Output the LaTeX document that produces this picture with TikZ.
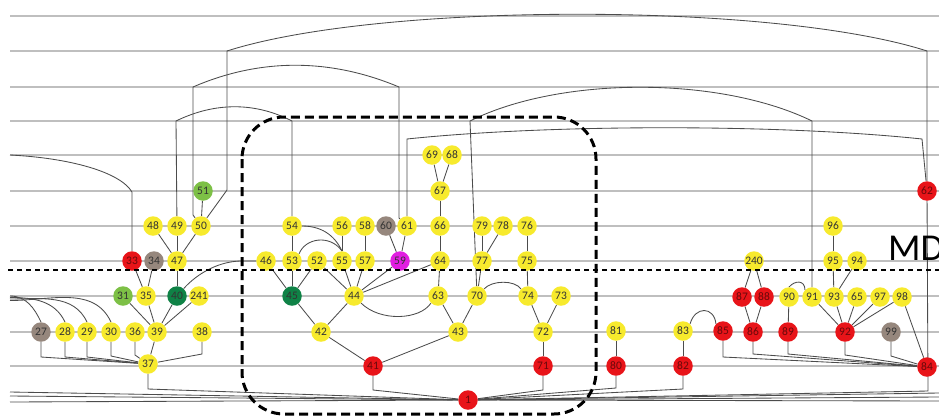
\documentclass[tikz,border=0pt]{standalone}
\usepackage{fontspec}
\setmainfont{Carlito}
\definecolor{cy}{RGB}{247,234,45}
\definecolor{cr}{RGB}{232,20,25}
\definecolor{cb}{RGB}{150,135,125}
\definecolor{clg}{RGB}{125,192,70}
\definecolor{cdg}{RGB}{15,130,70}
\definecolor{cm}{RGB}{225,30,225}
\pgfdeclarelayer{edgelayer}
\pgfdeclarelayer{toplayer}
\pgfsetlayers{edgelayer,main,toplayer}
\begin{document}
\begin{tikzpicture}[x=1pt,y=-1pt,
  nd/.style={circle, minimum size=19.5pt, inner sep=0pt, font=\fontsize{11.5}{11.5}\selectfont, text=black!80},
  Y/.style={nd, fill=cy},
  R/.style={nd, fill=cr, text=cr!45!black},
  B/.style={nd, fill=cb},
  LG/.style={nd, fill=clg},
  DG/.style={nd, fill=cdg},
  MG/.style={nd, fill=cm},
  edge/.style={draw=black!70, line width=0.85pt},
  gridline/.style={draw=black!25, line width=1.1pt}]
\useasboundingbox (0,0) rectangle (939,418);
\clip (0,0) rectangle (939,418);
% nodes
\node[Y] (n69) at (432,155) {69};
\node[Y] (n68) at (452,155) {68};
\node[LG] (n51) at (203,191) {51};
\node[Y] (n67) at (440,191) {67};
\node[R] (n62) at (927,191) {62};
\node[Y] (n48) at (153,226) {48};
\node[Y] (n49) at (177,226) {49};
\node[Y] (n50) at (201,226) {50};
\node[Y] (n54) at (292,226) {54};
\node[Y] (n56) at (342,226) {56};
\node[Y] (n58) at (365,226) {58};
\node[B] (n60) at (386,226) {60};
\node[Y] (n61) at (407,226) {61};
\node[Y] (n66) at (440,226) {66};
\node[Y] (n79) at (482,226) {79};
\node[Y] (n78) at (503,226) {78};
\node[Y] (n76) at (527,226) {76};
\node[Y] (n96) at (833,226) {96};
\node[R] (n33) at (132,261) {33};
\node[B] (n34) at (154,261) {34};
\node[Y] (n47) at (177,261) {47};
\node[Y] (n46) at (266,261) {46};
\node[Y] (n53) at (292,261) {53};
\node[Y] (n52) at (317,261) {52};
\node[Y] (n55) at (342,261) {55};
\node[Y] (n57) at (365,261) {57};
\node[MG] (n59) at (400,261) {59};
\node[Y] (n64) at (440,261) {64};
\node[Y] (n77) at (482,261) {77};
\node[Y] (n75) at (527,261) {75};
\node[Y] (n240) at (754,261) {240};
\node[Y] (n95) at (833,261) {95};
\node[Y] (n94) at (857,261) {94};
\node[LG] (n31) at (123,296) {31};
\node[Y] (n35) at (146,296) {35};
\node[DG] (n40) at (177,296) {40};
\node[Y] (n241) at (199,296) {241};
\node[DG] (n45) at (292,296) {45};
\node[Y] (n44) at (354,296) {44};
\node[Y] (n63) at (438,296) {63};
\node[Y] (n70) at (477,296) {70};
\node[Y] (n74) at (528,296) {74};
\node[Y] (n73) at (561,296) {73};
\node[R] (n87) at (742,297) {87};
\node[R] (n88) at (764,297) {88};
\node[Y] (n90) at (789,297) {90};
\node[Y] (n91) at (812,297) {91};
\node[Y] (n93) at (834,297) {93};
\node[Y] (n65) at (857,297) {65};
\node[Y] (n97) at (880,297) {97};
\node[Y] (n98) at (902,297) {98};
\node[B] (n27) at (41,332) {27};
\node[Y] (n28) at (65,332) {28};
\node[Y] (n29) at (87,332) {29};
\node[Y] (n30) at (111,332) {30};
\node[Y] (n36) at (135,332) {36};
\node[Y] (n39) at (157,332) {39};
\node[Y] (n38) at (202,332) {38};
\node[Y] (n42) at (321,332) {42};
\node[Y] (n43) at (458,332) {43};
\node[Y] (n72) at (543,332) {72};
\node[Y] (n81) at (616,331) {81};
\node[Y] (n83) at (683,331) {83};
\node[R] (n85) at (723,331) {85};
\node[R] (n86) at (753,332) {86};
\node[R] (n89) at (788,332) {89};
\node[R] (n92) at (845,332) {92};
\node[B] (n99) at (891,332) {99};
\node[Y] (n37) at (148,364) {37};
\node[R] (n41) at (373,366) {41};
\node[R] (n71) at (543,366) {71};
\node[R] (n80) at (616,366) {80};
\node[R] (n82) at (683,366) {82};
\node[R] (n84) at (927,367) {84};
\node[R] (n1) at (468,400) {1};
% free ends
\coordinate (L0) at (10,155);
\coordinate (L1) at (10,296);
\coordinate (L2) at (10,297.5);
\coordinate (L3) at (10,299);
\coordinate (L4) at (10,300.5);
\coordinate (BL1) at (10,392);
\coordinate (BL2) at (10,396);
\coordinate (BL3) at (10,402);
\coordinate (BR1) at (939,393);
\coordinate (BR2) at (939,397);
\coordinate (BR3) at (939,401);
\begin{pgfonlayer}{edgelayer}
\foreach \yy in {16,51,87,121,155,191,226,261,296,332,366}
  \draw[gridline] (10,\yy) -- (939,\yy);
% long arcs
\draw[edge] (n50) -- (227,190) -- (227,51) .. controls (380,2) and (775,2) .. (927,51) -- (n62);
\draw[edge] (n50) -- (193,215) -- (193,87) .. controls (260,58) and (330,58) .. (399,87) -- (399,218) -- (n61);
\draw[edge] (n49) -- (176,121) .. controls (215,102) and (255,102) .. (292,121) -- (n54);
\draw[edge] (n70) -- (470,121) .. controls (560,76) and (720,76) .. (812,121) -- (n91);
\draw[edge] (n61) -- (407,139) .. controls (550,124) and (780,124) .. (922,139) -- (n62);
\draw[edge] (n62) -- (928,391) -- (n1);
\draw[edge] (L0) .. controls (70,158) and (120,172) .. (132,192) -- (n33);
% left cluster
\draw[edge] (n51) -- (n50);
\draw[edge] (n48) -- (n47);
\draw[edge] (n49) -- (n47);
\draw[edge] (n50) -- (n47);
\draw[edge] (n47) -- (n40);
\draw[edge] (n33) -- (n35);
\draw[edge] (n34) -- (n35);
\draw[edge] (n31) -- (n39);
\draw[edge] (n35) -- (n39);
\draw[edge] (n40) -- (n39);
\draw[edge] (n241) -- (n39);
\draw[edge] (n39) -- (n37);
\draw[edge] (n36) -- (135,355) -- (n37);
\draw[edge] (n38) -- (202,354) -- (n37);
\draw[edge] (n27) -- (41,357) -- (n37);
\draw[edge] (n28) -- (65,357) -- (n37);
\draw[edge] (n29) -- (87,357) -- (n37);
\draw[edge] (n30) -- (111,356) -- (n37);
\draw[edge] (L1) to[out=0,in=115] (n27.north);
\draw[edge] (L2) to[out=0,in=115] (n28.north);
\draw[edge] (L3) to[out=0,in=115] (n29.north);
\draw[edge] (L4) to[out=0,in=115] (n30.north);
\draw[edge] (n37) -- (148,389) -- (n1);
\draw[edge] (BL1) -- (n1);
\draw[edge] (BL2) -- (n1);
\draw[edge] (BL3) -- (n1);
\draw[edge] (BR1) -- (n1);
\draw[edge] (BR2) -- (n1);
\draw[edge] (BR3) -- (n1);
\draw[edge] (n40) .. controls (195,276) and (215,262) .. (240,261) -- (n46);
% middle cluster
\draw[edge] (n54) -- (n53);
\draw[edge] (n54.east) to[out=0,in=115] (n55.north);
\draw[edge] (n53.north east) .. controls (305,238) and (330,234) .. (n55.north);
\draw[edge] (n56) -- (n55);
\draw[edge] (n58) -- (n57);
\draw[edge] (n60) -- (n59);
\draw[edge] (n61) -- (n59);
\draw[edge] (n46) -- (n45);
\draw[edge] (n53) -- (n45);
\draw[edge] (n52) -- (n45);
\draw[edge] (n52) -- (n44);
\draw[edge] (n55) -- (n44);
\draw[edge] (n57) -- (n44);
\draw[edge] (n59) -- (n44);
\draw[edge] (n64) -- (n44);
\draw[edge] (n44.south east) .. controls (380,322) and (420,320) .. (n63.south west);
\draw[edge] (n44) -- (n42);
\draw[edge] (n45) -- (n42);
\draw[edge] (n42) -- (n41);
\draw[edge] (n43) -- (n41);
\draw[edge] (n63) -- (n43);
\draw[edge] (n70) -- (n43);
\draw[edge] (n64) -- (n63);
\draw[edge] (n66) -- (n64);
\draw[edge] (n67) -- (n66);
\draw[edge] (n69) -- (n67);
\draw[edge] (n68) -- (n67);
\draw[edge] (n79) -- (n77);
\draw[edge] (n78) -- (n77);
\draw[edge] (n77) -- (n70);
\draw[edge] (n70.north east) .. controls (492,280) and (515,280) .. (n74.north west);
\draw[edge] (n76) -- (n75);
\draw[edge] (n75) -- (n74);
\draw[edge] (n74) -- (n72);
\draw[edge] (n73) -- (n72);
\draw[edge] (n72) -- (n71);
\draw[edge] (n41) -- (373,390) -- (n1);
\draw[edge] (n71) -- (543,390) -- (n1);
% right cluster
\draw[edge] (n81) -- (n80);
\draw[edge] (n83) -- (n82);
\draw[edge] (n80) -- (616,388) -- (n1);
\draw[edge] (n82) -- (683,389) -- (n1);
\draw[edge] (n83.north east) .. controls (695,306) and (714,306) .. (n85.north west);
\draw[edge] (n85) -- (723,357) -- (n84);
\draw[edge] (n86) -- (753,354) -- (n84);
\draw[edge] (n89) -- (788,354) -- (n84);
\draw[edge] (n92) -- (845,355) -- (n84);
\draw[edge] (n99) -- (891,356) -- (n84);
\draw[edge] (n98) -- (n84);
\draw[edge] (n240) -- (n87);
\draw[edge] (n240) -- (n88);
\draw[edge] (n87) -- (n86);
\draw[edge] (n88) -- (n86);
\draw[edge] (n90) -- (n89);
\draw[edge] (n90.north) .. controls (795,280) and (805,280) .. (n91.north west);
\draw[edge] (n91) -- (n92);
\draw[edge] (n93) -- (n92);
\draw[edge] (n65) -- (n92);
\draw[edge] (n97) -- (n92);
\draw[edge] (n98) -- (n92);
\draw[edge] (n96) -- (n95);
\draw[edge] (n95) -- (n93);
\draw[edge] (n94) -- (n93);
\end{pgfonlayer}
\begin{pgfonlayer}{toplayer}
\draw[line width=2.2pt, dash pattern=on 5pt off 4pt] (8,270) -- (939,270);
\draw[line width=3pt, dash pattern=on 9pt off 5pt, rounded corners=42pt] (242,117) rectangle (596,414);
\node[anchor=base west, inner sep=0, font=\fontsize{38}{38}\selectfont] (md) at (888,260) {MD};
\end{pgfonlayer}
\end{tikzpicture}
\end{document}
